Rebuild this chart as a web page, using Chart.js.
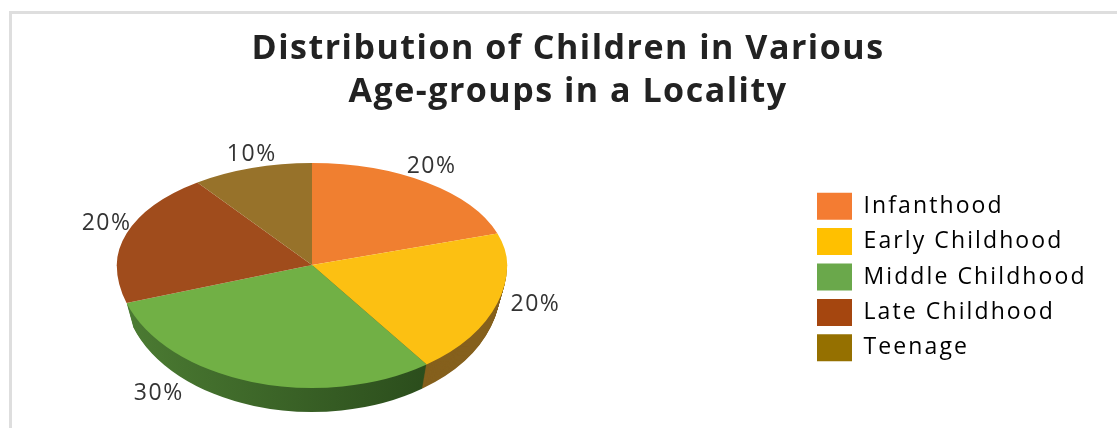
<!DOCTYPE html>
<html>
<head>
<meta charset="utf-8">
<title>Distribution of Children</title>
<script src="https://cdn.jsdelivr.net/npm/chart.js@4/dist/chart.umd.min.js"></script>
<style>
  html, body { margin: 0; padding: 0; background: #fff; }
  #wrap { position: relative; width: 1117px; height: 428px; overflow: hidden; }
  #frame { position: absolute; left: 9px; top: 11px; right: -4px; bottom: -4px; border: 3px solid #dedede; }
  canvas { position: absolute; left: 0; top: 0; }
</style>
</head>
<body>
<div id="wrap">
  <div id="frame"></div>
  <canvas id="age-chart" width="1117" height="428"></canvas>
</div>
<script>
const titleLines = ['Distribution of Children in Various', 'Age-groups in a Locality'];
const categories = ['Infanthood', 'Early Childhood', 'Middle Childhood', 'Late Childhood', 'Teenage'];
const shares = [20, 20, 30, 20, 10];
const topColors = ['#f07f30', '#fcc012', '#71b045', '#a04c1c', '#97722a'];
const legendColors = ['#f47c32', '#ffc000', '#6aa84b', '#a5460f', '#957000'];
const wallColors = [null, ['#6b4f1c', '#85601d'], ['#4c7c33', '#2b4d1c'], null, null];

// the tilted disc: apex sits above the ellipse middle, so each half has its own height
const disc = { x: 312, y: 265, rx: 195, ryTop: 102, ryBottom: 123, depth: 24, wallInset: 7 };
const labelNudges = [[5, -16], [38, 1], [-93, 11], [-20, -10], [0, -14]];

function project(ctx, arc, rx, ry, dy) {
  const r = arc.outerRadius;
  ctx.translate(disc.x, disc.y + dy);
  ctx.scale(rx / r, ry / r);
  ctx.translate(-arc.x, -arc.y);
}

function drawArcWith(ctx, arc, fill) {
  const saved = arc.options;
  arc.options = Object.create(saved, { backgroundColor: { value: fill } });
  arc.draw(ctx);
  arc.options = saved;
}

// canvas letter spacing for one layout box
function spaceText(chart, box, spacing) {
  const draw = box.draw;
  box.draw = function (area) {
    chart.ctx.letterSpacing = spacing;
    draw.call(box, area);
    chart.ctx.letterSpacing = '0px';
  };
}

const tiltedPie = {
  id: 'tiltedPie',
  afterLayout(chart) {
    // legend column sits lower than the chart middle
    const legend = chart.legend;
    const pad = legend.options.labels.padding;
    legend.left = 817 - pad;
    legend.top = 192.7 - pad;
    spaceText(chart, legend, '2.1px');
    spaceText(chart, chart.titleBlock, '1.5px');
  },
  beforeDatasetDraw(chart) {
    const ctx = chart.ctx;
    const arcs = chart.getDatasetMeta(0).data;

    // side wall, stacked from the bottom rim up to the top face
    ctx.save();
    ctx.beginPath();
    ctx.rect(0, disc.y, chart.width, chart.height - disc.y);
    ctx.clip();
    for (let d = disc.depth; d >= 1; d--) {
      const t = d / disc.depth;
      arcs.forEach((arc, i) => {
        if (!wallColors[i]) return;
        const grad = ctx.createLinearGradient(arc.x - arc.outerRadius, 0, arc.x + arc.outerRadius * 0.6, 0);
        grad.addColorStop(0, wallColors[i][0]);
        grad.addColorStop(1, wallColors[i][1]);
        ctx.save();
        project(ctx, arc, disc.rx - disc.wallInset * t, disc.ryBottom, d);
        drawArcWith(ctx, arc, i === 1 ? wallColors[1][1] : grad);
        ctx.restore();
      });
    }
    ctx.restore();

    // top face, upper and lower half
    [[0, disc.y + 0.5, disc.ryTop], [disc.y, chart.height - disc.y, disc.ryBottom]].forEach(([y, h, ry]) => {
      ctx.save();
      ctx.beginPath();
      ctx.rect(0, y, chart.width, h);
      ctx.clip();
      arcs.forEach(arc => {
        ctx.save();
        project(ctx, arc, disc.rx, ry, 0);
        arc.draw(ctx);
        ctx.restore();
      });
      ctx.restore();
    });
    return false;
  },
  afterDatasetsDraw(chart) {
    const ctx = chart.ctx;
    const arcs = chart.getDatasetMeta(0).data;
    ctx.save();
    ctx.font = '23px "Open Sans"';
    ctx.letterSpacing = '1.5px';
    ctx.fillStyle = '#333';
    ctx.textAlign = 'center';
    ctx.textBaseline = 'middle';
    arcs.forEach((arc, i) => {
      const mid = (arc.startAngle + arc.endAngle) / 2;
      const ry = Math.sin(mid) > 0 ? disc.ryBottom : disc.ryTop;
      const x = disc.x + disc.rx * Math.cos(mid) + labelNudges[i][0];
      const y = disc.y + ry * Math.sin(mid) + labelNudges[i][1];
      ctx.fillText(shares[i] + '%', x, y);
    });
    ctx.restore();
  }
};

new Chart(document.getElementById('age-chart'), {
  type: 'pie',
  data: {
    labels: categories,
    datasets: [{ data: shares, backgroundColor: topColors, borderWidth: 0 }]
  },
  options: {
    responsive: false,
    animation: false,
    layout: { padding: { left: 19 } },
    plugins: {
      title: {
        display: true,
        text: titleLines,
        color: '#222',
        font: { family: 'Open Sans', size: 34, weight: 'bold', lineHeight: 1.265 },
        padding: { top: 28, bottom: 0 }
      },
      legend: {
        position: 'right',
        align: 'start',
        labels: {
          boxWidth: 35,
          boxHeight: 27,
          padding: 8.4,
          color: '#333',
          font: { family: 'Open Sans', size: 23 },
          generateLabels: chart => categories.map((name, i) => ({
            text: name,
            fillStyle: legendColors[i],
            strokeStyle: legendColors[i],
            lineWidth: 0,
            index: i
          }))
        }
      },
      tooltip: { enabled: false }
    }
  },
  plugins: [tiltedPie]
});
</script>
</body>
</html>
